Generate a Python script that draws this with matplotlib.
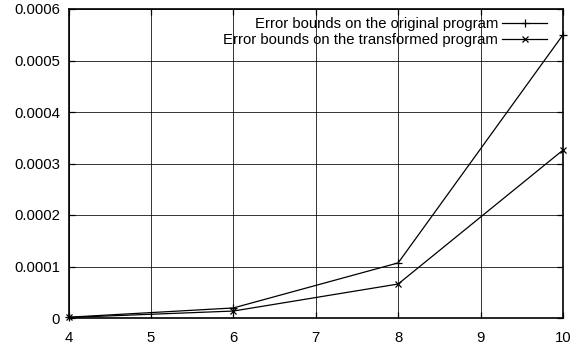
import matplotlib
matplotlib.use("Agg")
import matplotlib.pyplot as plt

x_vals = [4, 6, 8, 10]
original = [1.5e-6, 1.95e-5, 1.07e-4, 5.5e-4]
transformed = [1.0e-6, 1.35e-5, 6.6e-5, 3.26e-4]
labels = ["Error bounds on the original program", "Error bounds on the transformed program"]
x_ticks = [4, 5, 6, 7, 8, 9, 10]
y_ticks = [0, 0.0001, 0.0002, 0.0003, 0.0004, 0.0005, 0.0006]
y_tick_labels = ["0", "0.0001", "0.0002", "0.0003", "0.0004", "0.0005", "0.0006"]

plt.rcParams['font.family'] = ['Liberation Sans', 'DejaVu Sans']
fs = 10.7

fig = plt.figure(figsize=(5.88, 3.47), dpi=100)
W, H = 588, 347
left, right, top, bottom = 68.5, 563, 9, 318
ax = fig.add_axes([left / W, (H - bottom) / H, (right - left) / W, (bottom - top) / H])

ax.plot(x_vals, original, color='black', lw=0.9, marker='+', ms=6, mew=0.9, label=labels[0], clip_on=False, zorder=3)
ax.plot(x_vals, transformed, color='black', lw=0.9, marker='x', ms=4.5, mew=0.9, label=labels[1], clip_on=False, zorder=3)

ax.set_xlim(4, 10)
ax.set_ylim(0, 0.0006)
ax.set_xticks(x_ticks)
ax.set_xticklabels([str(t) for t in x_ticks], fontsize=fs)
ax.set_yticks(y_ticks)
ax.set_yticklabels(y_tick_labels, fontsize=fs)
ax.tick_params(direction='in', length=4, width=0.9, top=True, right=True, color='black')
ax.tick_params(axis='y', pad=6)
ax.tick_params(axis='x', pad=9)
ax.grid(True, color='black', lw=0.7, alpha=0.8)
for s in ax.spines.values():
    s.set_linewidth(1.2)
    s.set_color('black')

leg = ax.legend(loc='upper right', bbox_to_anchor=((547 - left) / (right - left), 1.0 - (17 - top) / (bottom - top)),
                frameon=False, markerfirst=False, fontsize=fs, handlelength=3.0, handletextpad=0.3,
                labelspacing=0.15, borderaxespad=0, borderpad=0)
leg.set_zorder(5)

fig.savefig("out.png", dpi=100)
